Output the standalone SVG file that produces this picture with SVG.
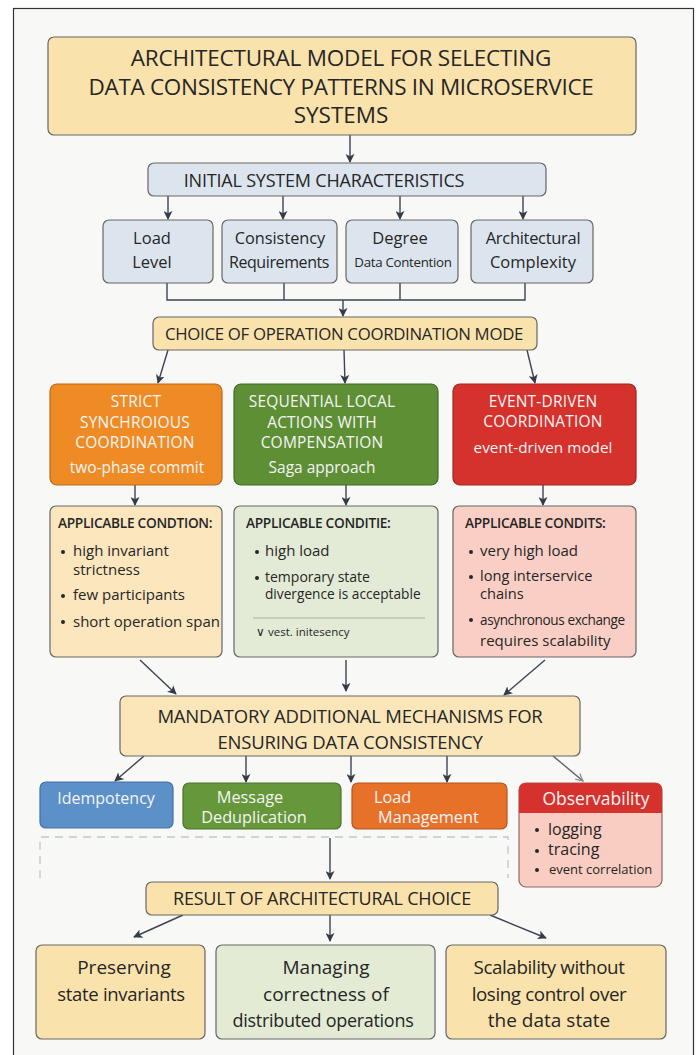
<svg xmlns="http://www.w3.org/2000/svg" width="697" height="1055" viewBox="0 0 697 1055">
<defs>
<marker id="ah" viewBox="0 0 10 10" refX="9" refY="5" markerWidth="9" markerHeight="9" markerUnits="userSpaceOnUse" orient="auto">
<path d="M0,0 L10,5 L0,10 L2.5,5 Z" fill="#353c48"/>
</marker>
<marker id="ahOpen" viewBox="0 0 10 10" refX="9" refY="5" markerWidth="9" markerHeight="9" markerUnits="userSpaceOnUse" orient="auto">
<path d="M1,1 L9,5 L1,9" fill="none" stroke="#8a8f96" stroke-width="1.4"/>
</marker>
<style>
text{font-family:"Open Sans","Noto Sans","Liberation Sans",sans-serif;fill:#262626;}
.box{stroke:#666;stroke-width:1.2;}
.tan{fill:#fae2ac;}
.blue{fill:#dce5ee;}
.c{text-anchor:middle;}
.wt{fill:#f5f5f5;}
.h{font-size:18px;font-weight:500;letter-spacing:-0.2px;}
.cap{font-size:15.5px;font-weight:500;letter-spacing:0.2px;}
.hd{font-size:13.7px;font-weight:600;letter-spacing:-0.3px;}
.bl{font-size:15px;}
.conn{fill:none;stroke:#3d4450;stroke-width:1.4;}
</style>
</defs>
<rect x="0" y="0" width="697" height="1055" fill="#ffffff"/>
<rect x="13.5" y="8.5" width="680" height="1055" fill="#f8f8f7" stroke="#333" stroke-width="1.2"/>

<g id="connectors">
<line class="conn" x1="350" y1="135" x2="350" y2="162" marker-end="url(#ah)"/>
<line class="conn" x1="168" y1="196" x2="168" y2="219" marker-end="url(#ah)"/>
<line class="conn" x1="283" y1="196" x2="283" y2="219" marker-end="url(#ah)"/>
<line class="conn" x1="400" y1="196" x2="400" y2="219" marker-end="url(#ah)"/>
<line class="conn" x1="523" y1="196" x2="523" y2="219" marker-end="url(#ah)"/>
<path class="conn" d="M167,283 V300 H525 V283 M284,283 V300 M400,283 V300"/>
<line class="conn" x1="343" y1="300" x2="343" y2="316" marker-end="url(#ah)"/>
<line class="conn" x1="168" y1="350" x2="158" y2="383" marker-end="url(#ah)"/>
<line class="conn" x1="344" y1="350" x2="345" y2="383" marker-end="url(#ah)"/>
<line class="conn" x1="527" y1="350" x2="535" y2="383" marker-end="url(#ah)"/>
<line class="conn" x1="135" y1="485" x2="135" y2="505" marker-end="url(#ah)"/>
<line class="conn" x1="346" y1="485" x2="346" y2="505" marker-end="url(#ah)"/>
<line class="conn" x1="543" y1="485" x2="543" y2="505" marker-end="url(#ah)"/>
<line class="conn" x1="140" y1="660" x2="176" y2="694" marker-end="url(#ah)"/>
<line class="conn" x1="346" y1="660" x2="346" y2="691" marker-end="url(#ah)"/>
<line class="conn" x1="545" y1="660" x2="504" y2="695" marker-end="url(#ah)"/>
<line class="conn" x1="144" y1="756" x2="115" y2="781" marker-end="url(#ah)"/>
<line class="conn" x1="246" y1="756" x2="246" y2="782" marker-end="url(#ah)"/>
<line class="conn" x1="351" y1="756" x2="351" y2="782" marker-end="url(#ah)"/>
<line class="conn" x1="447" y1="756" x2="447" y2="782" marker-end="url(#ah)"/>
<line x1="553" y1="756" x2="583" y2="781" stroke="#5a616b" stroke-width="1.4" marker-end="url(#ahOpen)"/>
<path d="M40,878 V837 H508 V878" fill="none" stroke="#bfc7d0" stroke-width="1.3" stroke-dasharray="8,6"/>
<line class="conn" x1="330" y1="838" x2="330" y2="879" marker-end="url(#ah)"/>
<line class="conn" x1="183" y1="915" x2="134" y2="937" marker-end="url(#ah)"/>
<line class="conn" x1="330" y1="915" x2="330" y2="941" marker-end="url(#ah)"/>
<line class="conn" x1="490" y1="915" x2="546" y2="938" marker-end="url(#ah)"/>
</g>

<g id="title">
<rect class="box tan" x="48" y="37" width="588" height="98" rx="6"/>
<text class="c" x="341" y="66" font-size="22.5" font-weight="500" letter-spacing="-0.2">ARCHITECTURAL MODEL FOR SELECTING</text>
<text class="c" x="341" y="95" font-size="22.5" font-weight="500" letter-spacing="-0.3">DATA CONSISTENCY PATTERNS IN MICROSERVICE</text>
<text class="c" x="341" y="123" font-size="22.5" font-weight="500">SYSTEMS</text>
</g>

<g id="initial">
<rect class="box blue" x="148" y="163" width="398" height="33" rx="6"/>
<text class="c h" x="324" y="186.5">INITIAL SYSTEM CHARACTERISTICS</text>
</g>

<g id="load-level">
<rect class="box blue" x="103" y="220" width="110" height="63" rx="6"/>
<text class="c" x="152" y="244" font-size="16.5">Load</text>
<text class="c" x="152" y="268" font-size="16.5">Level</text>
</g>
<g id="consistency-req">
<rect class="box blue" x="222" y="220" width="115" height="63" rx="6"/>
<text class="c" x="280" y="244" font-size="16.3">Consistency</text>
<text class="c" x="279" y="268" font-size="16" letter-spacing="-0.4">Requirements</text>
</g>
<g id="degree">
<rect class="box blue" x="346" y="220" width="112" height="63" rx="6"/>
<text class="c" x="400" y="244" font-size="16.5">Degree</text>
<text class="c" x="403" y="267" font-size="13.3" letter-spacing="-0.3">Data Contention</text>
</g>
<g id="arch-complexity">
<rect class="box blue" x="471" y="220" width="122" height="63" rx="6"/>
<text class="c" x="533" y="244" font-size="16.5" letter-spacing="-0.3">Architectural</text>
<text class="c" x="533" y="268" font-size="16.5">Complexity</text>
</g>

<g id="choice">
<rect class="box tan" x="153" y="317" width="384" height="33" rx="6"/>
<text class="c" x="344" y="339.5" font-size="16.8" font-weight="500" letter-spacing="-0.3">CHOICE OF OPERATION COORDINATION MODE</text>
</g>

<g id="strict-sync">
<rect x="50" y="384" width="172" height="101" rx="7" fill="#ef8b25" stroke="#b86a1c" stroke-width="1.2"/>
<text class="c cap wt" x="136" y="407">STRICT</text>
<text class="c cap wt" x="135" y="428">SYNCHROIOUS</text>
<text class="c cap wt" x="135" y="448">COORDINATION</text>
<text class="c wt" x="137" y="473" font-size="15.5">two-phase commit</text>
</g>
<g id="saga">
<rect x="234" y="384" width="204" height="101" rx="7" fill="#5e8f35" stroke="#44692a" stroke-width="1.2"/>
<text class="c cap wt" x="322" y="407">SEQUENTIAL LOCAL</text>
<text class="c cap wt" x="322" y="428">ACTIONS WITH</text>
<text class="c cap wt" x="322" y="448">COMPENSATION</text>
<text class="c wt" x="322" y="473" font-size="15.5">Saga approach</text>
</g>
<g id="event-driven">
<rect x="453" y="384" width="183" height="101" rx="7" fill="#d6322d" stroke="#a02420" stroke-width="1.2"/>
<text class="c cap wt" x="543" y="407">EVENT-DRIVEN</text>
<text class="c cap wt" x="543" y="427">COORDINATION</text>
<text class="c wt" x="543" y="453" font-size="15.3">event-driven model</text>
</g>

<g id="cond-strict">
<rect class="box" x="50" y="506" width="172" height="151" rx="6" fill="#fbe6be"/>
<text class="hd" x="58" y="527.5">APPLICABLE CONDTION:</text>
<circle cx="63" cy="552" r="2" fill="#262626"/>
<text class="bl" x="73" y="556">high invariant</text>
<text class="bl" x="73" y="575">strictness</text>
<circle cx="63" cy="596" r="2" fill="#262626"/>
<text class="bl" x="73" y="600">few participants</text>
<circle cx="63" cy="622" r="2" fill="#262626"/>
<text class="bl" x="73" y="627">short operation span</text>
</g>
<g id="cond-saga">
<rect class="box" x="234" y="506" width="204" height="151" rx="6" fill="#e3ebd6"/>
<text class="hd" x="246" y="527.5">APPLICABLE CONDITIE:</text>
<circle cx="257" cy="552" r="2" fill="#262626"/>
<text class="bl" x="265" y="556">high load</text>
<circle cx="257" cy="578" r="2" fill="#262626"/>
<text x="265" y="582" font-size="14">temporary state</text>
<text x="265" y="599" font-size="13.7">divergence is acceptable</text>
<line x1="253" y1="618" x2="425" y2="618" stroke="#a9b0a0" stroke-width="1"/>
<text x="256" y="636" font-size="11.5">∨ vest. initesency</text>
</g>
<g id="cond-event">
<rect class="box" x="453" y="506" width="183" height="151" rx="6" fill="#f9cfc5"/>
<text class="hd" x="465" y="527.5">APPLICABLE CONDITS:</text>
<circle cx="471" cy="552" r="2" fill="#262626"/>
<text class="bl" x="480" y="556">very high load</text>
<circle cx="471" cy="577" r="2" fill="#262626"/>
<text x="480" y="580.5" font-size="14.6">long interservice</text>
<text x="480" y="599" font-size="14.6">chains</text>
<circle cx="471" cy="620" r="2" fill="#262626"/>
<text x="480" y="624.5" font-size="13.6" letter-spacing="-0.4">asynchronous exchange</text>
<text x="480" y="646" font-size="15">requires scalability</text>
</g>

<g id="mandatory">
<rect class="box" x="120" y="696" width="460" height="60" rx="6" fill="#fbe6b9"/>
<text class="c" x="350" y="722.5" font-size="18.5" font-weight="500" letter-spacing="-0.2">MANDATORY ADDITIONAL MECHANISMS FOR</text>
<text class="c" x="350" y="748.5" font-size="18.5" font-weight="500" letter-spacing="-0.2">ENSURING DATA CONSISTENCY</text>
</g>

<g id="idempotency">
<rect x="40" y="782" width="133" height="46" rx="6" fill="#5b90c9" stroke="#44709f" stroke-width="1.2"/>
<text class="c wt" x="106" y="804" font-size="16">Idempotency</text>
</g>
<g id="dedup">
<rect x="183" y="783" width="158" height="46" rx="6" fill="#66973a" stroke="#4c732b" stroke-width="1.2"/>
<text class="c wt" x="250" y="803" font-size="16.3">Message</text>
<text class="c wt" x="254" y="823" font-size="16.3">Deduplication</text>
</g>
<g id="load-mgmt">
<rect x="352" y="783" width="155" height="46" rx="6" fill="#e8712a" stroke="#b35520" stroke-width="1.2"/>
<text x="374" y="803" font-size="16.3" class="wt">Load</text>
<text x="378" y="823" font-size="16.3" class="wt">Management</text>
</g>
<g id="observability">
<rect x="519" y="783" width="143" height="104" rx="7" fill="#f9cdc2" stroke="#8f6a64" stroke-width="1.2"/>
<path d="M519,813 V790 Q519,783 526,783 H655 Q662,783 662,790 V813 Z" fill="#d6322d"/>
<text class="c wt" x="596" y="805" font-size="17.5">Observability</text>
<circle cx="537" cy="830" r="2" fill="#262626"/>
<text x="548" y="835" font-size="16">logging</text>
<circle cx="537" cy="851" r="2" fill="#262626"/>
<text x="548" y="855" font-size="16">tracing</text>
<circle cx="537" cy="870" r="2" fill="#262626"/>
<text x="549" y="874" font-size="13">event correlation</text>
</g>

<g id="result">
<rect class="box tan" x="146" y="882" width="352" height="33" rx="6"/>
<text class="c h" x="322" y="905">RESULT OF ARCHITECTURAL CHOICE</text>
</g>

<g id="preserving">
<rect class="box tan" x="36" y="945" width="169" height="94" rx="6"/>
<text class="c" x="124" y="974" font-size="19">Preserving</text>
<text class="c" x="121" y="1001" font-size="18.5" letter-spacing="-0.3">state invariants</text>
</g>
<g id="managing">
<rect class="box" x="216" y="945" width="219" height="94" rx="6" fill="#e3ebd5"/>
<text class="c" x="326" y="974" font-size="19">Managing</text>
<text class="c" x="326" y="1001" font-size="19">correctness of</text>
<text class="c" x="323" y="1027" font-size="18" letter-spacing="-0.3">distributed operations</text>
</g>
<g id="scalability">
<rect class="box tan" x="446" y="945" width="220" height="94" rx="6"/>
<text class="c" x="549" y="974" font-size="18.8" letter-spacing="-0.4">Scalability without</text>
<text class="c" x="549" y="1001" font-size="18.8" letter-spacing="-0.4">losing control over</text>
<text class="c" x="549" y="1027" font-size="19">the data state</text>
</g>
</svg>
